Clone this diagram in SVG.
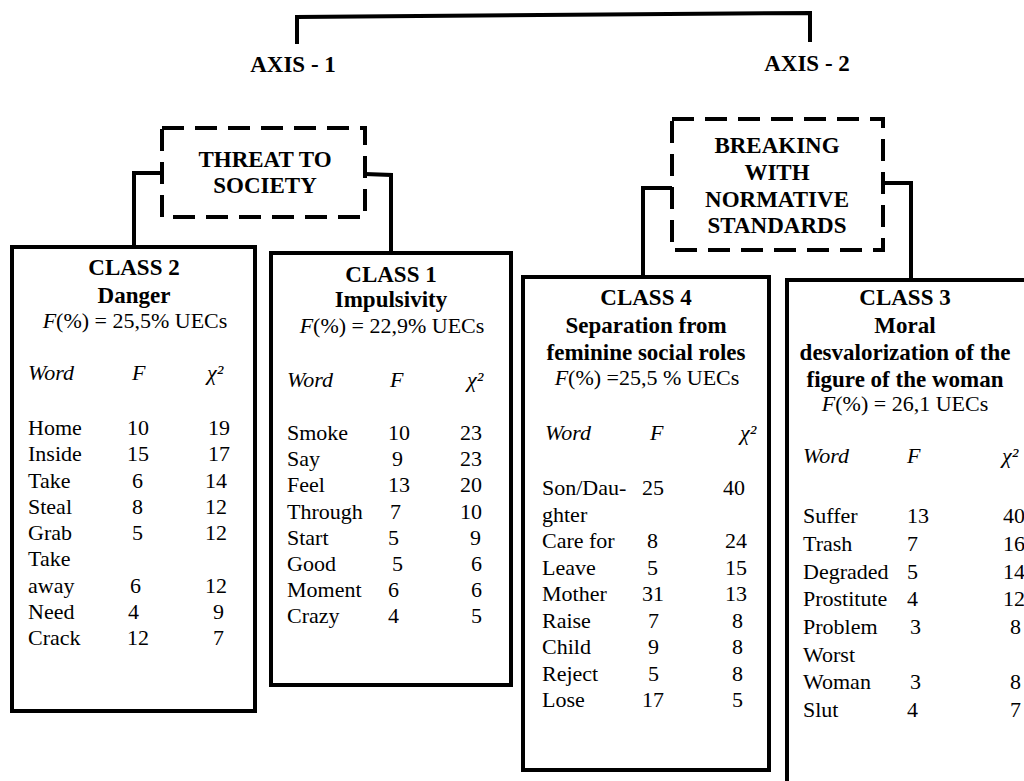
<svg xmlns="http://www.w3.org/2000/svg" width="1024" height="781" viewBox="0 0 1024 781">
  <defs>
    <!-- shared outline looks -->
    <marker id="none" markerWidth="1" markerHeight="1"/>
  </defs>
  <rect width="1024" height="781" fill="#fff"/>

  <!-- connectors -->
  <g id="connectors" fill="none" stroke="#000" stroke-width="4">
    <polyline points="297,44 297,17 810,13 810,42"/>
    <polyline points="162,173 134,173 134,249"/>
    <polyline points="365,174 391,175 391,255"/>
    <polyline points="672,188 643,188 643,279"/>
    <polyline points="883,183 911,183 911,282"/>
  </g>

  <!-- axis labels -->
  <g id="axis1">
    <text x="293" y="72" font-family="Liberation Serif" font-size="23" font-weight="bold" text-anchor="middle">AXIS - 1</text>
  </g>
  <g id="axis2">
    <text x="807" y="71" font-family="Liberation Serif" font-size="23" font-weight="bold" text-anchor="middle">AXIS - 2</text>
  </g>

  <!-- dashed category boxes -->
  <g id="threat">
    <rect x="162" y="128" width="203" height="89" fill="none" stroke="#000" stroke-width="4" stroke-dasharray="22 11"/>
    <text x="265" y="167" font-family="Liberation Serif" font-size="23" font-weight="bold" text-anchor="middle">THREAT TO</text>
    <text x="265" y="193" font-family="Liberation Serif" font-size="23" font-weight="bold" text-anchor="middle">SOCIETY</text>
  </g>
  <g id="breaking">
    <rect x="672" y="119" width="211" height="131" fill="none" stroke="#000" stroke-width="4" stroke-dasharray="22 11"/>
    <text x="777" y="153" font-family="Liberation Serif" font-size="23" font-weight="bold" text-anchor="middle">BREAKING</text>
    <text x="777" y="180" font-family="Liberation Serif" font-size="23" font-weight="bold" text-anchor="middle">WITH</text>
    <text x="777" y="207" font-family="Liberation Serif" font-size="23" font-weight="bold" text-anchor="middle">NORMATIVE</text>
    <text x="777" y="233" font-family="Liberation Serif" font-size="23" font-weight="bold" text-anchor="middle">STANDARDS</text>
  </g>

  <!-- class 2 -->
  <g id="class2">
    <rect x="12" y="247" width="243" height="464" fill="#fff" stroke="#000" stroke-width="4"/>
    <text x="134" y="275" font-family="Liberation Serif" font-size="23" font-weight="bold" text-anchor="middle">CLASS 2</text>
    <text x="134" y="303" font-family="Liberation Serif" font-size="23" font-weight="bold" text-anchor="middle">Danger</text>
    <text x="135" y="328" font-family="Liberation Serif" font-size="22" text-anchor="middle"><tspan font-style="italic">F</tspan>(%) = 25,5% UECs</text>
    <text x="28" y="380" font-family="Liberation Serif" font-size="22" font-style="italic">Word</text>
    <text x="132" y="380" font-family="Liberation Serif" font-size="22" font-style="italic">F</text>
    <text x="207" y="380" font-family="Liberation Serif" font-size="22" font-style="italic">χ²</text>
    <text x="28" y="435" font-family="Liberation Serif" font-size="22">Home</text>
    <text x="127" y="435" font-family="Liberation Serif" font-size="22">10</text>
    <text x="208" y="435" font-family="Liberation Serif" font-size="22">19</text>
    <text x="28" y="461" font-family="Liberation Serif" font-size="22">Inside</text>
    <text x="127" y="461" font-family="Liberation Serif" font-size="22">15</text>
    <text x="208" y="461" font-family="Liberation Serif" font-size="22">17</text>
    <text x="28" y="487.5" font-family="Liberation Serif" font-size="22">Take</text>
    <text x="132" y="487.5" font-family="Liberation Serif" font-size="22">6</text>
    <text x="205" y="487.5" font-family="Liberation Serif" font-size="22">14</text>
    <text x="28" y="514" font-family="Liberation Serif" font-size="22">Steal</text>
    <text x="132" y="514" font-family="Liberation Serif" font-size="22">8</text>
    <text x="205" y="514" font-family="Liberation Serif" font-size="22">12</text>
    <text x="28" y="540" font-family="Liberation Serif" font-size="22">Grab</text>
    <text x="132" y="540" font-family="Liberation Serif" font-size="22">5</text>
    <text x="205" y="540" font-family="Liberation Serif" font-size="22">12</text>
    <text x="28" y="566" font-family="Liberation Serif" font-size="22">Take</text>
    <text x="28" y="592.5" font-family="Liberation Serif" font-size="22">away</text>
    <text x="130" y="592.5" font-family="Liberation Serif" font-size="22">6</text>
    <text x="205" y="592.5" font-family="Liberation Serif" font-size="22">12</text>
    <text x="28" y="619" font-family="Liberation Serif" font-size="22">Need</text>
    <text x="128" y="619" font-family="Liberation Serif" font-size="22">4</text>
    <text x="213" y="619" font-family="Liberation Serif" font-size="22">9</text>
    <text x="28" y="645" font-family="Liberation Serif" font-size="22">Crack</text>
    <text x="127" y="645" font-family="Liberation Serif" font-size="22">12</text>
    <text x="213" y="645" font-family="Liberation Serif" font-size="22">7</text>
  </g>

  <!-- class 1 -->
  <g id="class1">
    <rect x="271" y="253" width="240" height="432" fill="#fff" stroke="#000" stroke-width="4"/>
    <text x="391" y="282" font-family="Liberation Serif" font-size="23" font-weight="bold" text-anchor="middle">CLASS 1</text>
    <text x="391" y="307" font-family="Liberation Serif" font-size="23" font-weight="bold" text-anchor="middle">Impulsivity</text>
    <text x="392" y="333" font-family="Liberation Serif" font-size="22" text-anchor="middle"><tspan font-style="italic">F</tspan>(%) = 22,9% UECs</text>
    <text x="287" y="387" font-family="Liberation Serif" font-size="22" font-style="italic">Word</text>
    <text x="390" y="387" font-family="Liberation Serif" font-size="22" font-style="italic">F</text>
    <text x="467" y="387" font-family="Liberation Serif" font-size="22" font-style="italic">χ²</text>
    <text x="287" y="440" font-family="Liberation Serif" font-size="22">Smoke</text>
    <text x="388" y="440" font-family="Liberation Serif" font-size="22">10</text>
    <text x="460" y="440" font-family="Liberation Serif" font-size="22">23</text>
    <text x="287" y="466" font-family="Liberation Serif" font-size="22">Say</text>
    <text x="392" y="466" font-family="Liberation Serif" font-size="22">9</text>
    <text x="460" y="466" font-family="Liberation Serif" font-size="22">23</text>
    <text x="287" y="492" font-family="Liberation Serif" font-size="22">Feel</text>
    <text x="388" y="492" font-family="Liberation Serif" font-size="22">13</text>
    <text x="460" y="492" font-family="Liberation Serif" font-size="22">20</text>
    <text x="287" y="518.5" font-family="Liberation Serif" font-size="22">Through</text>
    <text x="390" y="518.5" font-family="Liberation Serif" font-size="22">7</text>
    <text x="460" y="518.5" font-family="Liberation Serif" font-size="22">10</text>
    <text x="287" y="544.5" font-family="Liberation Serif" font-size="22">Start</text>
    <text x="388" y="544.5" font-family="Liberation Serif" font-size="22">5</text>
    <text x="470" y="544.5" font-family="Liberation Serif" font-size="22">9</text>
    <text x="287" y="570.5" font-family="Liberation Serif" font-size="22">Good</text>
    <text x="392" y="570.5" font-family="Liberation Serif" font-size="22">5</text>
    <text x="471" y="570.5" font-family="Liberation Serif" font-size="22">6</text>
    <text x="287" y="597" font-family="Liberation Serif" font-size="22">Moment</text>
    <text x="388" y="597" font-family="Liberation Serif" font-size="22">6</text>
    <text x="471" y="597" font-family="Liberation Serif" font-size="22">6</text>
    <text x="287" y="623" font-family="Liberation Serif" font-size="22">Crazy</text>
    <text x="388" y="623" font-family="Liberation Serif" font-size="22">4</text>
    <text x="471" y="623" font-family="Liberation Serif" font-size="22">5</text>
  </g>

  <!-- class 4 -->
  <g id="class4">
    <rect x="523" y="277" width="246" height="493" fill="#fff" stroke="#000" stroke-width="4"/>
    <text x="646" y="305" font-family="Liberation Serif" font-size="23" font-weight="bold" text-anchor="middle">CLASS 4</text>
    <text x="646" y="333" font-family="Liberation Serif" font-size="23" font-weight="bold" text-anchor="middle">Separation from</text>
    <text x="646" y="360" font-family="Liberation Serif" font-size="23" font-weight="bold" text-anchor="middle">feminine social roles</text>
    <text x="647" y="385" font-family="Liberation Serif" font-size="22" text-anchor="middle"><tspan font-style="italic">F</tspan>(%) =25,5 % UECs</text>
    <text x="545" y="440" font-family="Liberation Serif" font-size="22" font-style="italic">Word</text>
    <text x="650" y="440" font-family="Liberation Serif" font-size="22" font-style="italic">F</text>
    <text x="740" y="440" font-family="Liberation Serif" font-size="22" font-style="italic">χ²</text>
    <text x="542" y="495" font-family="Liberation Serif" font-size="22">Son/Dau-</text>
    <text x="642" y="495" font-family="Liberation Serif" font-size="22">25</text>
    <text x="723" y="495" font-family="Liberation Serif" font-size="22">40</text>
    <text x="542" y="521.5" font-family="Liberation Serif" font-size="22">ghter</text>
    <text x="542" y="548" font-family="Liberation Serif" font-size="22">Care for</text>
    <text x="647" y="548" font-family="Liberation Serif" font-size="22">8</text>
    <text x="725" y="548" font-family="Liberation Serif" font-size="22">24</text>
    <text x="542" y="574.5" font-family="Liberation Serif" font-size="22">Leave</text>
    <text x="647" y="574.5" font-family="Liberation Serif" font-size="22">5</text>
    <text x="725" y="574.5" font-family="Liberation Serif" font-size="22">15</text>
    <text x="542" y="601" font-family="Liberation Serif" font-size="22">Mother</text>
    <text x="642" y="601" font-family="Liberation Serif" font-size="22">31</text>
    <text x="725" y="601" font-family="Liberation Serif" font-size="22">13</text>
    <text x="542" y="627.5" font-family="Liberation Serif" font-size="22">Raise</text>
    <text x="648" y="627.5" font-family="Liberation Serif" font-size="22">7</text>
    <text x="732" y="627.5" font-family="Liberation Serif" font-size="22">8</text>
    <text x="542" y="654" font-family="Liberation Serif" font-size="22">Child</text>
    <text x="648" y="654" font-family="Liberation Serif" font-size="22">9</text>
    <text x="732" y="654" font-family="Liberation Serif" font-size="22">8</text>
    <text x="542" y="680.5" font-family="Liberation Serif" font-size="22">Reject</text>
    <text x="648" y="680.5" font-family="Liberation Serif" font-size="22">5</text>
    <text x="732" y="680.5" font-family="Liberation Serif" font-size="22">8</text>
    <text x="542" y="707" font-family="Liberation Serif" font-size="22">Lose</text>
    <text x="642" y="707" font-family="Liberation Serif" font-size="22">17</text>
    <text x="732" y="707" font-family="Liberation Serif" font-size="22">5</text>
  </g>

  <!-- class 3 (runs past the right and bottom edges) -->
  <g id="class3">
    <rect x="787" y="280" width="250" height="510" fill="#fff" stroke="#000" stroke-width="4"/>
    <text x="905" y="305" font-family="Liberation Serif" font-size="23" font-weight="bold" text-anchor="middle">CLASS 3</text>
    <text x="905" y="333" font-family="Liberation Serif" font-size="23" font-weight="bold" text-anchor="middle">Moral</text>
    <text x="905" y="360" font-family="Liberation Serif" font-size="23" font-weight="bold" text-anchor="middle">desvalorization of the</text>
    <text x="905" y="387" font-family="Liberation Serif" font-size="23" font-weight="bold" text-anchor="middle">figure of the woman</text>
    <text x="905" y="411" font-family="Liberation Serif" font-size="22" text-anchor="middle"><tspan font-style="italic">F</tspan>(%) = 26,1 UECs</text>
    <text x="803" y="463" font-family="Liberation Serif" font-size="22" font-style="italic">Word</text>
    <text x="907" y="463" font-family="Liberation Serif" font-size="22" font-style="italic">F</text>
    <text x="1002" y="463" font-family="Liberation Serif" font-size="22" font-style="italic">χ²</text>
    <text x="803" y="523" font-family="Liberation Serif" font-size="22">Suffer</text>
    <text x="907" y="523" font-family="Liberation Serif" font-size="22">13</text>
    <text x="1003" y="523" font-family="Liberation Serif" font-size="22">40</text>
    <text x="803" y="551" font-family="Liberation Serif" font-size="22">Trash</text>
    <text x="907" y="551" font-family="Liberation Serif" font-size="22">7</text>
    <text x="1003" y="551" font-family="Liberation Serif" font-size="22">16</text>
    <text x="803" y="578.5" font-family="Liberation Serif" font-size="22">Degraded</text>
    <text x="907" y="578.5" font-family="Liberation Serif" font-size="22">5</text>
    <text x="1003" y="578.5" font-family="Liberation Serif" font-size="22">14</text>
    <text x="803" y="606" font-family="Liberation Serif" font-size="22">Prostitute</text>
    <text x="907" y="606" font-family="Liberation Serif" font-size="22">4</text>
    <text x="1003" y="606" font-family="Liberation Serif" font-size="22">12</text>
    <text x="803" y="634" font-family="Liberation Serif" font-size="22">Problem</text>
    <text x="910" y="634" font-family="Liberation Serif" font-size="22">3</text>
    <text x="1010" y="634" font-family="Liberation Serif" font-size="22">8</text>
    <text x="803" y="661.5" font-family="Liberation Serif" font-size="22">Worst</text>
    <text x="803" y="689" font-family="Liberation Serif" font-size="22">Woman</text>
    <text x="910" y="689" font-family="Liberation Serif" font-size="22">3</text>
    <text x="1010" y="689" font-family="Liberation Serif" font-size="22">8</text>
    <text x="803" y="717" font-family="Liberation Serif" font-size="22">Slut</text>
    <text x="907" y="717" font-family="Liberation Serif" font-size="22">4</text>
    <text x="1010" y="717" font-family="Liberation Serif" font-size="22">7</text>
  </g>
</svg>
